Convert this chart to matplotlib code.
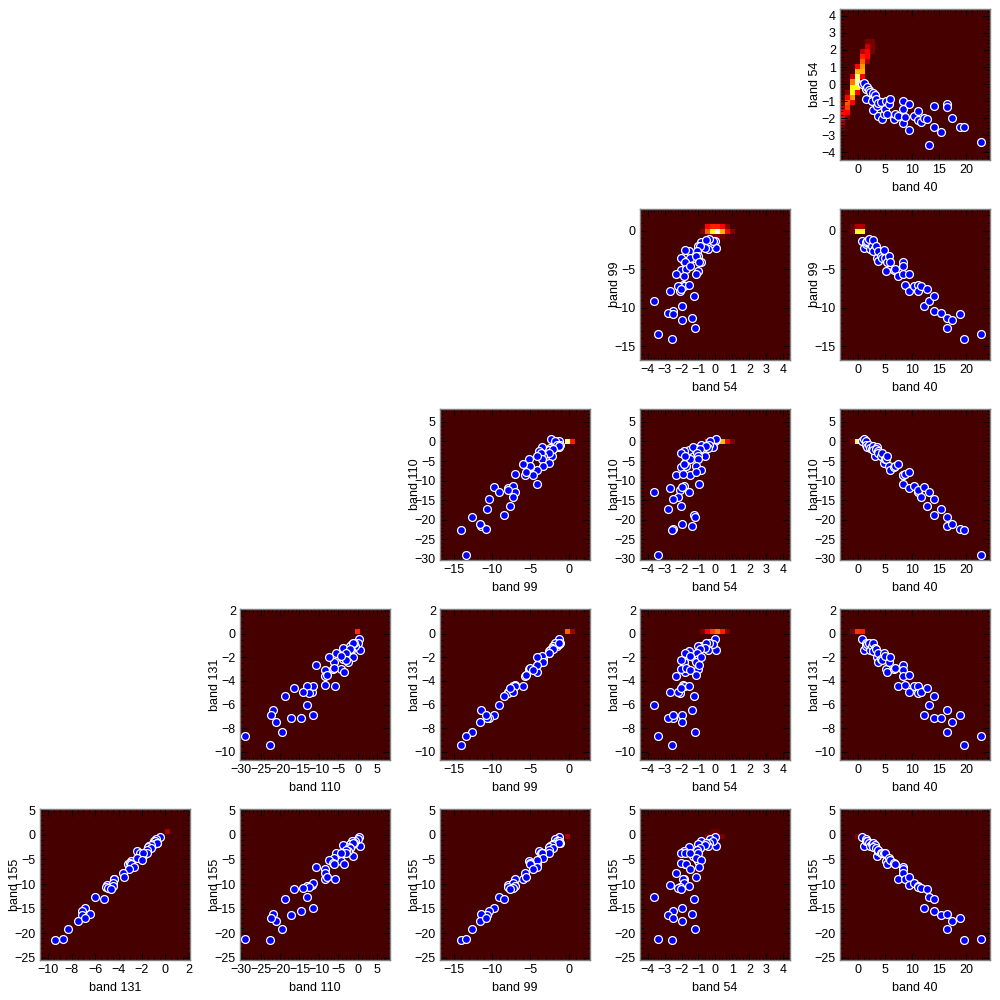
import numpy as np
import matplotlib
matplotlib.use("Agg")
import matplotlib.pyplot as plt
from matplotlib.ticker import MultipleLocator, AutoMinorLocator
from matplotlib.colors import Normalize

plt.rcParams['font.family'] = ['Liberation Sans', 'DejaVu Sans']
plt.rcParams['font.size'] = 9
plt.rcParams['axes.unicode_minus'] = True

# ---------------- outlier spectra (scatter points) ----------------
band40 = [0.6, 1.0, 1.4, 1.4, 1.6, 2.0, 2.2, 2.5, 2.8, 3.0,
          2.8, 3.4, 3.2, 3.7, 3.6, 4.2, 4.4, 4.7, 4.9, 5.1,
          5.4, 5.7, 5.9, 6.7, 6.8, 7.4, 8.2, 8.2, 8.3, 8.6,
          9.3, 9.4, 10.3, 11.0, 11.0, 11.7, 12.1, 12.8, 13.1, 14.0,
          14.0, 15.4, 16.4, 16.5, 17.3, 18.9, 19.6, 22.7]
band54 = [0.0, 0.06, -0.3, -0.85, -0.17, -0.37, -0.45, -1.0, -0.55, -0.64,
          -1.53, -1.3, -0.9, -1.87, -1.1, -1.03, -2.06, -1.77, -1.48, -1.0,
          -1.77, -1.15, -0.87, -2.06, -1.73, -1.86, -0.99, -1.48, -2.31, -1.92,
          -1.15, -2.7, -1.88, -1.57, -2.1, -2.23, -1.98, -2.04, -3.6, -1.28,
          -2.5, -2.8, -1.18, -1.37, -1.96, -2.5, -2.54, -3.38]
band99 = [-1.3, -2.3, -1.75, -1.5, -1.3, -1.1, -2.4, -1.97, -1.2, -2.2,
          -2.6, -3.5, -2.0, -3.9, -2.6, -3.3, -3.6, -2.5, -3.5, -5.2,
          -4.1, -3.3, -4.1, -5.1, -5.0, -5.9, -4.1, -4.6, -5.7, -7.0,
          -5.6, -7.9, -7.2, -7.0, -7.9, -7.2, -9.8, -7.6, -9.1, -8.5,
          -10.4, -10.7, -12.6, -11.4, -11.6, -10.8, -14.1, -13.4]
band110 = [0.2, 0.6, 0.0, -0.8, -1.5, -1.0, -1.7, -2.0, -1.2, -3.8,
           -2.2, -1.3, -2.0, -2.4, -3.0, -3.8, -3.0, -5.5, -4.4, -4.4,
           -3.6, -6.2, -7.4, -6.4, -6.2, -5.8, -10.8, -8.5, -8.5, -8.4,
           -7.9, -11.8, -11.5, -13.0, -12.5, -14.1, -11.6, -16.4, -13.0, -18.8,
           -14.7, -17.2, -19.4, -21.7, -21.1, -22.3, -22.6, -29.0]
band131 = [-0.45, -1.4, -0.8, -1.0, -0.9, -0.75, -1.4, -1.0, -0.75, -1.2,
           -1.5, -1.95, -1.25, -2.4, -1.6, -2.1, -2.2, -1.6, -1.9, -2.95,
           -3.2, -2.4, -2.0, -3.0, -2.9, -4.4, -2.65, -3.1, -3.6, -4.35,
           -3.5, -4.95, -4.45, -4.45, -5.05, -4.9, -6.85, -4.6, -6.0, -5.25,
           -7.1, -7.1, -8.3, -6.45, -7.45, -6.85, -9.4, -8.7]
band155 = [-0.35, -2.25, -0.9, -1.2, -1.3, -1.6, -2.25, -1.9, -1.6, -2.0,
           -2.4, -4.3, -2.6, -3.3, -3.0, -3.6, -3.6, -3.6, -3.7, -5.3,
           -5.9, -4.6, -5.2, -5.7, -5.9, -8.9, -6.6, -7.0, -7.7, -8.9,
           -8.6, -10.1, -9.8, -10.5, -10.6, -10.8, -14.9, -11.1, -12.7, -13.0,
           -15.6, -16.3, -19.1, -16.1, -17.5, -16.9, -21.4, -21.2]

# ---------------- density of the main population (hot 2D histogram cells) -------
# each entry: (x value, y value, log-density level)
cells_54_40 = [(-2.94, -2.53, 0.06), (-2.94, -2.23, 0.15), (-2.94, -1.94, 0.30), (-2.94, -1.64, 0.32),
               (-2.94, -1.35, 0.20), (-2.94, -1.05, 0.08),
               (-2.01, -1.94, 0.10), (-2.01, -1.64, 0.30), (-2.01, -1.35, 0.40), (-2.01, -1.05, 0.45),
               (-2.01, -0.76, 0.30), (-2.01, -0.46, 0.10),
               (-1.08, -1.05, 0.30), (-1.08, -0.76, 0.55), (-1.08, -0.46, 0.72), (-1.08, -0.17, 0.72),
               (-1.08, 0.13, 0.50), (-1.08, 0.42, 0.20),
               (-0.16, -0.46, 0.30), (-0.16, -0.17, 0.75), (-0.16, 0.13, 0.92), (-0.16, 0.42, 0.85),
               (-0.16, 0.72, 0.60), (-0.16, 1.01, 0.30),
               (0.77, 0.42, 0.30), (0.77, 0.72, 0.60), (0.77, 1.01, 0.55), (0.77, 1.31, 0.45),
               (0.77, 1.60, 0.35), (0.77, 1.90, 0.20),
               (1.70, 1.31, 0.15), (1.70, 1.60, 0.30), (1.70, 1.90, 0.30), (1.70, 2.19, 0.20),
               (1.70, 2.49, 0.08),
               (2.63, 1.90, 0.08), (2.63, 2.19, 0.10), (2.63, 2.49, 0.08)]
cells_99_54 = [(-0.76, -0.14, 0.10), (-0.46, -0.14, 0.45), (-0.17, -0.14, 0.75), (0.13, -0.14, 0.95),
               (0.42, -0.14, 0.60), (0.72, -0.14, 0.30), (1.01, -0.14, 0.10),
               (-0.46, 0.51, 0.30), (-0.17, 0.51, 0.35), (0.13, 0.51, 0.35), (0.42, 0.51, 0.30),
               (0.72, 0.51, 0.10),
               (-0.46, -0.79, 0.06), (-0.17, -0.79, 0.10), (0.13, -0.79, 0.10), (0.42, -0.79, 0.06)]
cells_99_40 = [(-1.08, -0.14, 0.06), (-1.08, 0.51, 0.04), (-0.16, 0.51, 0.17), (0.77, 0.51, 0.17),
               (-0.16, -0.14, 0.75), (0.77, -0.14, 0.75)]
cells_110_99 = [(-0.14, -0.06, 0.88), (0.51, -0.06, 0.35)]
cells_110_54 = [(-0.46, -0.06, 0.45), (-0.17, -0.06, 0.50), (0.13, -0.06, 0.55), (0.42, -0.06, 0.62),
                (0.72, -0.06, 0.30), (1.01, -0.06, 0.08)]
cells_110_40 = [(-1.08, -0.06, 0.08), (-0.16, -0.06, 0.85)]
cells_131_110 = [(-0.06, 0.18, 0.38)]
cells_131_99 = [(-0.14, 0.18, 0.45), (0.51, 0.18, 0.15)]
cells_131_54 = [(-0.76, 0.18, 0.08), (-0.46, 0.18, 0.30), (-0.17, 0.18, 0.40), (0.13, 0.18, 0.50),
                (0.42, 0.18, 0.35), (0.72, 0.18, 0.10)]
cells_131_40 = [(-1.08, 0.18, 0.08), (-0.16, 0.18, 0.38), (0.77, 0.18, 0.35)]
cells_155_131 = [(0.18, 0.68, 0.15)]
cells_155_110 = [(-0.06, -0.35, 0.04)]
cells_155_99 = [(-0.14, -0.35, 0.15)]
cells_155_54 = [(-0.46, -0.35, 0.08), (-0.17, -0.35, 0.12), (0.13, -0.35, 0.12), (0.42, -0.35, 0.08),
                (-0.17, 0.68, 0.05), (0.13, 0.68, 0.05)]
cells_155_40 = [(-0.16, -0.35, 0.10)]

row_bands = ['54', '99', '110', '131', '155']
col_bands = ['131', '110', '99', '54', '40']

bands = {'40': band40, '54': band54, '99': band99,
         '110': band110, '131': band131, '155': band155}
cells = {('54', '40'): cells_54_40, ('99', '54'): cells_99_54, ('99', '40'): cells_99_40,
         ('110', '99'): cells_110_99, ('110', '54'): cells_110_54, ('110', '40'): cells_110_40,
         ('131', '110'): cells_131_110, ('131', '99'): cells_131_99, ('131', '54'): cells_131_54,
         ('131', '40'): cells_131_40, ('155', '131'): cells_155_131, ('155', '110'): cells_155_110,
         ('155', '99'): cells_155_99, ('155', '54'): cells_155_54, ('155', '40'): cells_155_40}

limits = {'40': (-3.4, 24.4), '54': (-4.45, 4.4), '99': (-16.8, 2.8),
          '110': (-30.3, 8.3), '131': (-10.7, 2.1), '155': (-25.5, 5.3)}
major = {'40': 5, '54': 1, '99': 5, '110': 5, '131': 2, '155': 5}
NBINS = 30

fig = plt.figure(figsize=(10, 10), dpi=100)
norm = Normalize(vmin=-0.1, vmax=1.0)

for r, yb in enumerate(row_bands):
    for c, xb in enumerate(col_bands):
        if c < 4 - r:
            continue
        left = 0.04 + 0.2 * c
        bottom = 1 - 0.009 - 0.2 * r - 0.151
        ax = fig.add_axes([left, bottom, 0.15, 0.151])
        xe = np.linspace(limits[xb][0], limits[xb][1], NBINS + 1)
        ye = np.linspace(limits[yb][0], limits[yb][1], NBINS + 1)
        H = np.zeros((NBINS, NBINS))
        for cx, cy, lv in cells[(yb, xb)]:
            i = np.searchsorted(xe, cx) - 1
            j = np.searchsorted(ye, cy) - 1
            H[j, i] = lv
        ax.pcolormesh(xe, ye, H, cmap='hot', norm=norm, shading='flat', zorder=1)
        ax.scatter(bands[xb], bands[yb], s=32, c='#0000ff', edgecolors='white',
                   linewidths=0.9, zorder=3)
        ax.set_xlim(limits[xb])
        ax.set_ylim(limits[yb])
        ax.xaxis.set_major_locator(MultipleLocator(major[xb]))
        ax.yaxis.set_major_locator(MultipleLocator(major[yb]))
        ax.xaxis.set_minor_locator(AutoMinorLocator())
        ax.yaxis.set_minor_locator(AutoMinorLocator())
        ax.tick_params(which='both', direction='in', top=True, right=True, color='k',
                       labelsize=9, pad=3)
        ax.tick_params(which='major', length=5, width=0.8)
        ax.tick_params(which='minor', length=2.5, width=0.6)
        for sp in ax.spines.values():
            sp.set_color('#808080')
            sp.set_linewidth(1.0)
        ax.set_xlabel('band ' + xb, fontsize=9)
        ax.set_ylabel('band ' + yb, fontsize=9)
        ax.xaxis.set_label_coords(0.5, -0.145)
        ax.yaxis.set_label_coords(-0.13, 0.5)

fig.savefig('out.png', dpi=100)
